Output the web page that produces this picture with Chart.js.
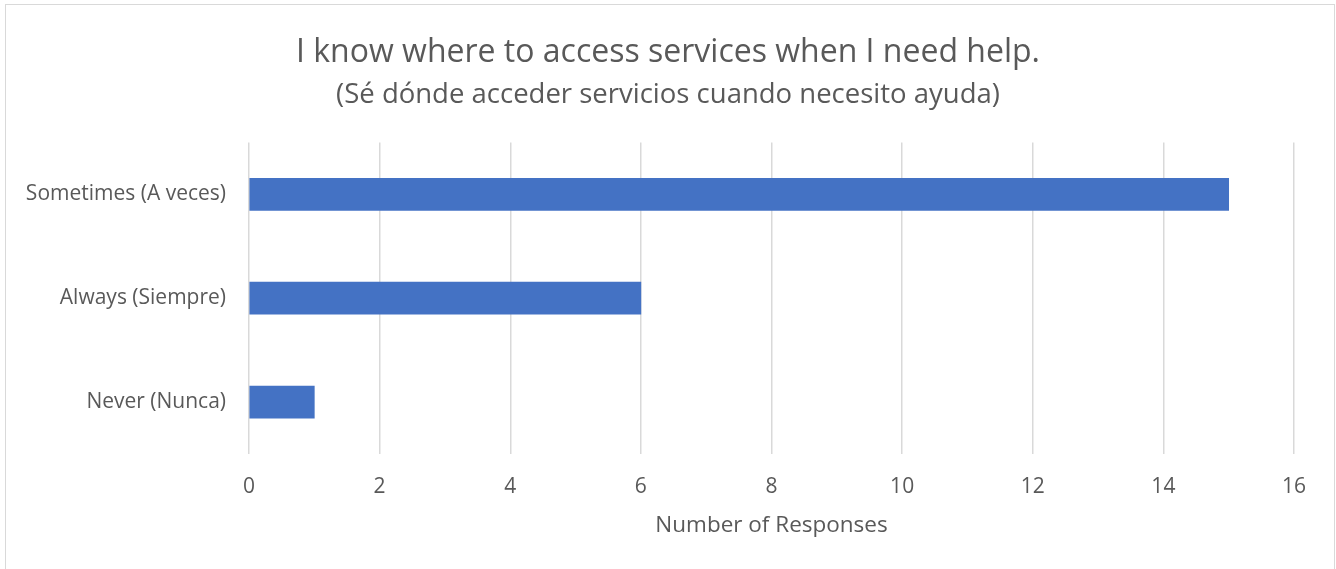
<!DOCTYPE html>
<html>
<head>
<meta charset="utf-8">
<script src="https://cdn.jsdelivr.net/npm/chart.js@4.4.0/dist/chart.umd.min.js"></script>
<style>
  body { margin: 0; background: #fff; }
  #wrap { position: relative; width: 1336px; height: 569px; overflow: hidden; }
  #frame { position: absolute; left: 5px; top: 4px; width: 1328px; height: 600px; border: 1px solid #d9d9d9; }
  canvas { position: absolute; left: 0; top: 0; }
</style>
</head>
<body>
<div id="wrap">
  <div id="frame"></div>
  <canvas id="chart" width="1336" height="569"></canvas>
</div>
<script>
  "use strict";

  // Data
  var categories = ["Sometimes (A veces)", "Always (Siempre)", "Never (Nunca)"];
  var responses = [15, 6, 1];
  var xMin = 0;
  var xMax = 16;
  var xStep = 2;

  var titleText = "I know where to access services when I need help.";
  var subtitleText = "(Sé dónde acceder servicios cuando necesito ayuda)";
  var xAxisTitle = "Number of Responses";

  var font = "'Open Sans', 'Noto Sans', sans-serif";
  var textColor = "#595959";
  var gridColor = "#d9d9d9";

  var ctx = document.getElementById("chart").getContext("2d");
  var myChart = new Chart(ctx, {
    type: "bar",
    data: {
      labels: categories,
      datasets: [{
        label: xAxisTitle,
        data: responses,
        backgroundColor: "#4472C4",
        borderWidth: 0,
        barThickness: 32
      }]
    },
    options: {
      indexAxis: "y",
      responsive: false,
      animation: false,
      layout: { padding: { left: 10, right: 10, top: 0, bottom: 0 } },
      plugins: {
        legend: { display: false },
        tooltip: { enabled: false },
        title: {
          display: true,
          text: titleText,
          color: textColor,
          font: { family: font, size: 32, weight: "normal" },
          padding: { top: 34, bottom: 3 }
        },
        subtitle: {
          display: true,
          text: subtitleText,
          color: textColor,
          font: { family: font, size: 27.5, weight: "normal" },
          padding: { top: 3, bottom: 31 }
        }
      },
      scales: {
        x: {
          min: xMin,
          max: xMax,
          ticks: {
            stepSize: xStep,
            color: textColor,
            padding: 20,
            font: { family: font, size: 21 }
          },
          grid: { color: gridColor, lineWidth: 1.5, drawTicks: false },
          border: { display: false },
          title: {
            display: true,
            text: xAxisTitle,
            color: textColor,
            font: { family: font, size: 22.5 },
            padding: { top: 0, bottom: 30 }
          },
          afterFit: function (scale) { scale.height = 115; }
        },
        y: {
          ticks: {
            color: textColor,
            padding: 15,
            font: { family: font, size: 21 }
          },
          grid: { display: false },
          border: { display: false },
          afterFit: function (scale) { scale.width = 239; }
        },
        // empty right-hand margin so the plot ends where the reference does
        yRight: {
          type: "category",
          position: "right",
          ticks: { display: false },
          grid: { display: false },
          border: { display: false },
          afterFit: function (scale) { scale.width = 32; }
        }
      }
    }
  });
</script>
</body>
</html>
